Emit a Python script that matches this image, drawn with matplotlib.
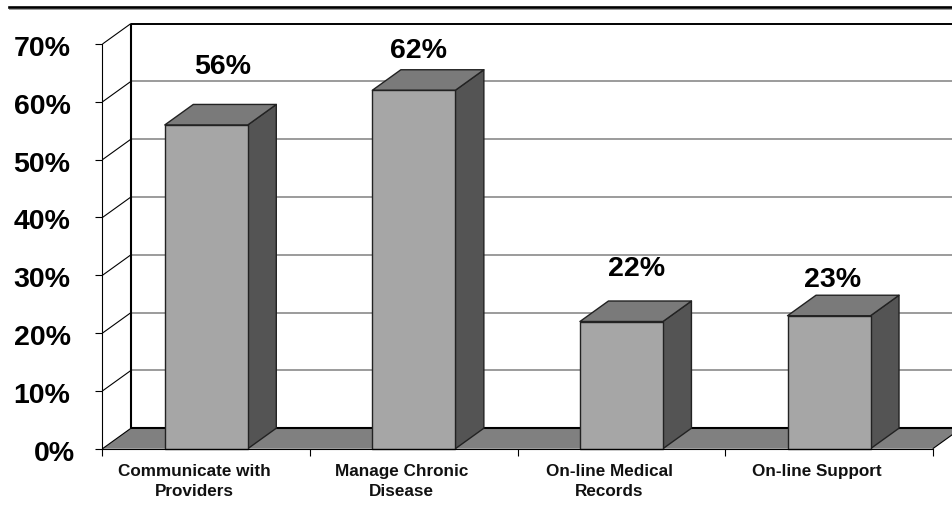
import numpy as np
import matplotlib
matplotlib.use("Agg")
import matplotlib.pyplot as plt
from matplotlib.patches import Polygon
from matplotlib.transforms import ScaledTranslation

plt.rcParams['font.family'] = ['Liberation Sans', 'DejaVu Sans']
plt.rcParams['font.weight'] = 'bold'

# Values
categories = ["Communicate with\nProviders", "Manage Chronic\nDisease",
              "On-line Medical\nRecords", "On-line Support"]
values = [56, 62, 22, 23]
value_labels = ["56%", "62%", "22%", "23%"]
label_heights = [66, 68.8, 31.1, 29.2]
label_shift_x = [16, 5, 15, 4]
y_ticks = [0, 10, 20, 30, 40, 50, 60, 70]
y_tick_labels = ["0%", "10%", "20%", "30%", "40%", "50%", "60%", "70%"]

W, H = 953, 514
px = 1 / 100
fig = plt.figure(figsize=(W * px, H * px), dpi=100)

# Front plane of the fake 3D box
left, right, bottom, top = 102.5, 932.8, 448.7, 44.0
ax = fig.add_axes([left / W, 1 - bottom / H, (right - left) / W, (bottom - top) / H])
ax.set_xlim(0, 4)
ax.set_ylim(0, 70)
ax.patch.set_visible(False)

x_per_px = 4 / (right - left)
y_per_px = 70 / (bottom - top)
depth_x = 28.5 * x_per_px
depth_y = 20.5 * y_per_px
far_right = 4 + 40 * x_per_px

GREY_FLOOR = "#808080"
GREY_TOP = "#7a7a7a"
GREY_FRONT = "#a6a6a6"
GREY_SIDE = "#545454"


def shape(points, face, edge="#222222", lw=1.0, z=3):
    ax.add_patch(Polygon(points, closed=True, facecolor=face, edgecolor=edge,
                         linewidth=lw, zorder=z, clip_on=False, joinstyle="round"))


def line(xs, ys, color="black", lw=1.0, z=2):
    ax.plot(xs, ys, color=color, lw=lw, zorder=z, clip_on=False, solid_capstyle="butt")


# Floor
shape([(0, 0), (depth_x, depth_y), (4 + depth_x, depth_y), (4, 0)], GREY_FLOOR, edge="none", lw=0, z=1)

# Gridlines on the back wall and the slanted ones on the side wall
for t in y_ticks[1:-1]:
    line([depth_x, far_right], [t + depth_y, t + depth_y], color="#808080", lw=1.1, z=1)
for t in y_ticks:
    line([0, depth_x], [t, t + depth_y], lw=0.8, z=2)

# Back wall outline
line([depth_x, depth_x], [depth_y, 70 + depth_y], lw=1.5)
line([depth_x, far_right], [70 + depth_y, 70 + depth_y], lw=1.4)
line([depth_x, far_right], [depth_y, depth_y], lw=1.5, z=2)

# Right edge of the floor
line([4, 4 + depth_x], [0, depth_y], lw=0.8)

# Bars
bar_w = 83 * x_per_px
for i, v in enumerate(values):
    x0 = i + 0.5 - bar_w / 2
    x1 = x0 + bar_w
    shape([(x1, 0), (x1 + depth_x, depth_y), (x1 + depth_x, v + depth_y), (x1, v)], GREY_SIDE)
    shape([(x0, v), (x0 + depth_x, v + depth_y), (x1 + depth_x, v + depth_y), (x1, v)], GREY_TOP)
    shape([(x0, 0), (x0, v), (x1, v), (x1, 0)], GREY_FRONT)
    ax.annotate(value_labels[i], xy=(i + 0.5, label_heights[i]), xytext=(label_shift_x[i] * 0.72, 0),
                textcoords="offset points", ha="center", va="center",
                fontsize=20.5, fontweight="bold", color="black", annotation_clip=False)

# Axes
for s in ["top", "right"]:
    ax.spines[s].set_visible(False)
for s in ["left", "bottom"]:
    ax.spines[s].set_linewidth(0.8)
ax.spines["bottom"].set_zorder(4)
ax.set_yticks(y_ticks)
ax.set_yticklabels(y_tick_labels, fontsize=20.5, fontweight="bold")
ax.set_xticks(np.arange(5))
ax.set_xticklabels([])
ax.tick_params(axis="y", length=5, width=0.8, pad=18)
ax.tick_params(axis="x", length=5, width=0.8)

# Nudge the tick labels down, and the 0% one to the right
for lab, t in zip(ax.get_yticklabels(), y_ticks):
    dx = 4 * px if t == 0 else 0
    lab.set_transform(lab.get_transform() + ScaledTranslation(dx, -2 * px, fig.dpi_scale_trans))

for i, c in enumerate(categories):
    ax.annotate(c, xy=(i + 0.5, 0), xytext=(-12 * 0.72, -11.2), textcoords="offset points",
                ha="center", va="top", fontsize=12.3, fontweight="bold", color="#111111",
                linespacing=1.38, annotation_clip=False)

# Heavy rule across the top of the figure
fig.add_artist(plt.Line2D([9 / W, 1], [1 - 7.2 / H] * 2, color="black", lw=1.9))
fig.add_artist(plt.Line2D([9 / W, 1], [1 - 9 / H] * 2, color="#999999", lw=0.7))

fig.savefig("out.png", dpi=100)
